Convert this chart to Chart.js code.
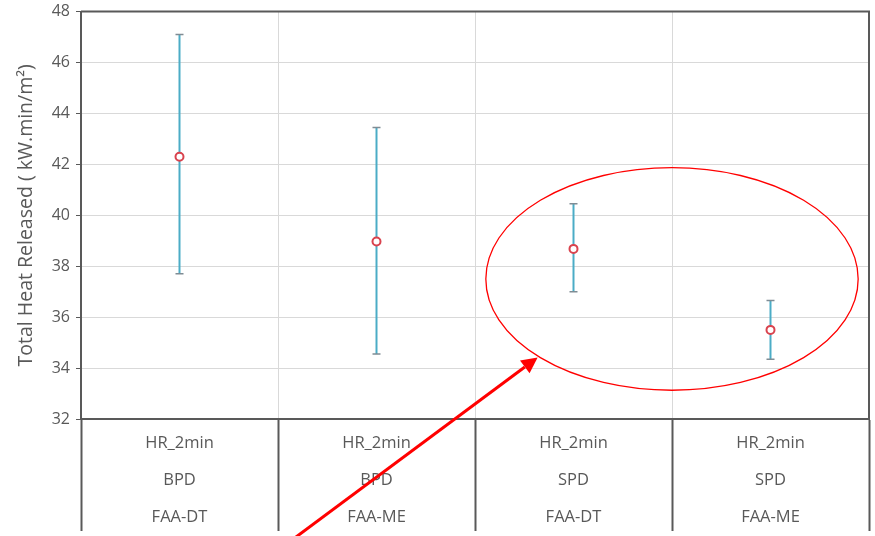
<!DOCTYPE html>
<html>
<head>
<meta charset="utf-8">
<script src="https://cdn.jsdelivr.net/npm/chart.js@4"></script>
<style>
  html, body { margin: 0; padding: 0; background: #fff; }
  #wrap { width: 875px; height: 536px; position: relative; }
</style>
</head>
<body>
<div id="wrap"><canvas id="c" width="875" height="536"></canvas></div>
<script>
// ---- data ----
const categories = [
  ['HR_2min', 'BPD', 'FAA-DT'],
  ['HR_2min', 'BPD', 'FAA-ME'],
  ['HR_2min', 'SPD', 'FAA-DT'],
  ['HR_2min', 'SPD', 'FAA-ME']
];
const meanValues  = [42.3, 38.97, 38.68, 35.5];
const upperValues = [47.1, 43.45, 40.45, 36.65];
const lowerValues = [37.7, 34.55, 37.0, 34.35];
const yTickMin = 32, yTickMax = 48, yTickStep = 2;
const yTitle = 'Total Heat Released ( kW.min/m\u00B2)';

// annotation (ellipse + arrow) expressed in data units
const ellipseNote = { cx: 2.5, cy: 37.5, rx: 0.945, ry: 4.37 };
const arrowNote = { x0: 0.58, y0: 27.3, x1: 1.818, y1: 34.42 };

const AXIS = '#595959';
const GRID = '#d9d9d9';
const TXT = '#595959';

const frame = {
  id: 'frame',
  beforeDatasetsDraw(chart) {
    const { ctx, scales: { x, y } } = chart;
    ctx.save();
    for (let i = 0; i < meanValues.length; i++) {
      const px = x.getPixelForValue(i);
      const yt = y.getPixelForValue(upperValues[i]);
      const yb = y.getPixelForValue(lowerValues[i]);
      ctx.strokeStyle = '#4bacc6';
      ctx.lineWidth = 2;
      ctx.beginPath(); ctx.moveTo(px, yt); ctx.lineTo(px, yb); ctx.stroke();
      ctx.strokeStyle = '#7f8c94';
      ctx.lineWidth = 1.5;
      ctx.beginPath();
      ctx.moveTo(px - 4, yt); ctx.lineTo(px + 4, yt);
      ctx.moveTo(px - 4, yb); ctx.lineTo(px + 4, yb);
      ctx.stroke();
    }
    ctx.restore();
  },
  afterDraw(chart) {
    const { ctx, chartArea: a, scales: { x, y } } = chart;
    ctx.save();
    ctx.strokeStyle = AXIS;
    ctx.lineWidth = 2;
    ctx.beginPath();
    ctx.moveTo(a.left, a.top); ctx.lineTo(a.right, a.top); ctx.lineTo(a.right, a.bottom);
    ctx.stroke();
    // ellipse
    const cx = x.getPixelForValue(ellipseNote.cx);
    const cy = y.getPixelForValue(ellipseNote.cy);
    const rx = x.getPixelForValue(ellipseNote.cx + ellipseNote.rx) - cx;
    const ry = cy - y.getPixelForValue(ellipseNote.cy + ellipseNote.ry);
    ctx.strokeStyle = '#ff0000';
    ctx.lineWidth = 1.3;
    ctx.beginPath(); ctx.ellipse(cx, cy, rx, ry, 0, 0, Math.PI * 2); ctx.stroke();
    // arrow
    const ax0 = x.getPixelForValue(arrowNote.x0), ay0 = y.getPixelForValue(arrowNote.y0);
    const ax1 = x.getPixelForValue(arrowNote.x1), ay1 = y.getPixelForValue(arrowNote.y1);
    const ang = Math.atan2(ay1 - ay0, ax1 - ax0);
    const hl = 16, hw = 8;
    const bx = ax1 - hl * Math.cos(ang), by = ay1 - hl * Math.sin(ang);
    ctx.lineWidth = 3;
    ctx.beginPath(); ctx.moveTo(ax0, ay0); ctx.lineTo(bx, by); ctx.stroke();
    ctx.fillStyle = '#ff0000';
    ctx.beginPath();
    ctx.moveTo(ax1, ay1);
    ctx.lineTo(bx + hw * Math.sin(ang), by - hw * Math.cos(ang));
    ctx.lineTo(bx - hw * Math.sin(ang), by + hw * Math.cos(ang));
    ctx.closePath(); ctx.fill();
    ctx.restore();
  }
};

new Chart(document.getElementById('c'), {
  type: 'line',
  data: {
    labels: categories,
    datasets: [{
      data: meanValues,
      showLine: false,
      pointStyle: 'circle',
      pointRadius: 4,
      pointBorderWidth: 2,
      pointBorderColor: '#d9434e',
      pointBackgroundColor: '#ffffff'
    }]
  },
  options: {
    responsive: false,
    animation: false,
    events: [],
    layout: { padding: { top: 0, right: 0, left: 0, bottom: 0 } },
    plugins: { legend: { display: false }, tooltip: { enabled: false } },
    scales: {
      x: {
        type: 'category',
        offset: true,
        grid: {
          offset: true,
          color: GRID,
          lineWidth: 1,
          drawTicks: true,
          tickLength: 112,
          tickColor: AXIS,
          tickWidth: 2
        },
        border: { display: true, color: AXIS, width: 2 },
        ticks: {
          color: TXT,
          padding: -106.5,
          font: { family: 'Open Sans', size: 16.5, lineHeight: 2.2424 },
          maxRotation: 0,
          autoSkip: false
        },
        afterFit(s) { s.height = 117; s.paddingRight = 0; s.paddingLeft = 0; }
      },
      y: {
        min: yTickMin,
        max: yTickMax,
        ticks: {
          stepSize: yTickStep,
          color: TXT,
          padding: 6,
          font: { family: 'Open Sans', size: 16, lineHeight: 0.7 }
        },
        grid: {
          color: GRID,
          lineWidth: 1,
          tickLength: 5,
          tickColor: AXIS,
          tickWidth: 1
        },
        border: { display: true, color: AXIS, width: 2 },
        title: {
          display: true,
          text: yTitle,
          color: TXT,
          font: { family: 'Open Sans', size: 19.5 },
          padding: { top: 15, bottom: 0 }
        },
        afterFit(s) { s.width = 81; }
      }
    }
  },
  plugins: [frame]
});
</script>
</body>
</html>
